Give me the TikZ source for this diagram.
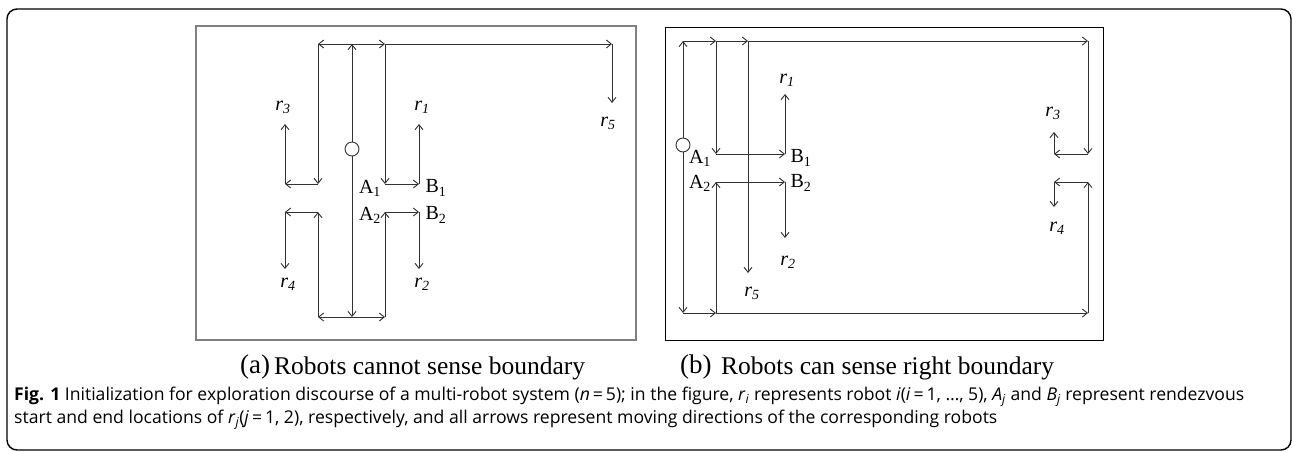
\documentclass[tikz,border=0pt]{standalone}
\usepackage{fontspec}
\setmainfont{Liberation Serif}
\setsansfont{Open Sans}
\usetikzlibrary{arrows.meta}
\definecolor{linecol}{HTML}{333333}
\definecolor{boxgray}{HTML}{808080}
\begin{document}
\begin{tikzpicture}[x=1pt,y=-1pt,
  mv/.style={draw=linecol, line width=0.9pt, -{Straight Barb[length=5pt,width=8pt]}},
  lbl/.style={font=\fontsize{20}{20}\selectfont, inner sep=0pt},
  start/.style={circle, draw=linecol, fill=white, line width=0.9pt, minimum size=14pt, inner sep=0pt},
  subcap/.style={font=\fontsize{25.5}{25.5}\selectfont, inner sep=0pt, anchor=west},
  subtag/.style={font=\fontsize{27}{27}\selectfont, inner sep=0pt, anchor=west},
  capline/.style={font=\sffamily\fontsize{17.6}{20}\selectfont, inner sep=0pt, anchor=west}]
\useasboundingbox (0,0) rectangle (1293,451);
% outer frame
\draw[black, line width=1.4pt, rounded corners=10pt] (7,9) rectangle (1291,450);
% panel boxes
\draw[boxgray, line width=1.4pt] (196,26) rectangle (636,340);
\draw[black, line width=0.9pt] (665,27) rectangle (1103,340);

% ---------- panel (a) ----------
\coordinate (aT) at (352,44);
\coordinate (aB) at (352,317);
\coordinate (aTL) at (318,44);
\coordinate (aTR) at (385,44);
\coordinate (aT5) at (612,44);
\coordinate (a5) at (612,103);
\coordinate (aBL) at (318,317);
\coordinate (aBR) at (385,317);
\coordinate (aL1) at (318,184);
\coordinate (aR1) at (385,184);
\coordinate (aLL1) at (285,184);
\coordinate (aRR1) at (419,184);
\coordinate (a3) at (285,124);
\coordinate (a1) at (419,124);
\coordinate (aL2) at (318,212);
\coordinate (aR2) at (385,212);
\coordinate (aLL2) at (285,212);
\coordinate (aRR2) at (419,212);
\coordinate (a4) at (285,269);
\coordinate (a2) at (419,269);
\node[start] (aS) at (352,149) {};

\draw[mv] (aS) -- (aT);
\draw[mv] (aS) -- (aB);
\draw[mv] (aT) -- (aTL);
\draw[mv] (aT) -- (aTR);
\draw[mv] (aTR) -- (aT5);
\draw[mv] (aT5) -- (a5);
\draw[mv] (aTL) -- (aL1);
\draw[mv] (aL1) -- (aLL1);
\draw[mv] (aLL1) -- (a3);
\draw[mv] (aTR) -- (aR1);
\draw[mv] (aR1) -- (aRR1);
\draw[mv] (aRR1) -- (a1);
\draw[mv] (aB) -- (aBL);
\draw[mv] (aB) -- (aBR);
\draw[mv] (aBL) -- (aL2);
\draw[mv] (aL2) -- (aLL2);
\draw[mv] (aLL2) -- (a4);
\draw[mv] (aBR) -- (aR2);
\draw[mv] (aR2) -- (aRR2);
\draw[mv] (aRR2) -- (a2);

\node[lbl] (ar3) at (283,107) {\textit{r}\textsubscript{\textit{3}}};
\node[lbl] (ar1) at (422,107) {\textit{r}\textsubscript{\textit{1}}};
\node[lbl] (ar5) at (608,123) {\textit{r}\textsubscript{\textit{5}}};
\node[lbl] (ar4) at (288,284) {\textit{r}\textsubscript{\textit{4}}};
\node[lbl] (ar2) at (422,284) {\textit{r}\textsubscript{\textit{2}}};
\node[lbl] (aA1) at (370,188) {A\textsubscript{1}};
\node[lbl] (aB1) at (436,188) {B\textsubscript{1}};
\node[lbl] (aA2) at (370,215) {A\textsubscript{2}};
\node[lbl] (aB2) at (436,215) {B\textsubscript{2}};

% ---------- panel (b) ----------
\coordinate (bT) at (683,41);
\coordinate (bB) at (683,313);
\coordinate (bT1) at (716,41);
\coordinate (bT5) at (748,41);
\coordinate (bTR) at (1088,41);
\coordinate (bB1) at (716,313);
\coordinate (bBR) at (1088,313);
\coordinate (bA1) at (716,154);
\coordinate (bB1p) at (785,154);
\coordinate (b1) at (785,94);
\coordinate (b5) at (748,273);
\coordinate (bA2) at (716,182);
\coordinate (bB2p) at (785,182);
\coordinate (b2) at (785,238);
\coordinate (bR1) at (1088,154);
\coordinate (bRL1) at (1054,154);
\coordinate (b3) at (1054,132);
\coordinate (bR2) at (1088,182);
\coordinate (bRL2) at (1054,182);
\coordinate (b4) at (1054,207);
\node[start] (bS) at (683,145) {};

\draw[mv] (bS) -- (bT);
\draw[mv] (bS) -- (bB);
\draw[mv] (bT) -- (bT1);
\draw[mv] (bT1) -- (bT5);
\draw[mv] (bT5) -- (bTR);
\draw[mv] (bTR) -- (bR1);
\draw[mv] (bR1) -- (bRL1);
\draw[mv] (bRL1) -- (b3);
\draw[mv] (bT1) -- (bA1);
\draw[mv] (bA1) -- (bB1p);
\draw[mv] (bB1p) -- (b1);
\draw[mv] (bT5) -- (b5);
\draw[mv] (bB) -- (bB1);
\draw[mv] (bB1) -- (bBR);
\draw[mv] (bBR) -- (bR2);
\draw[mv] (bR2) -- (bRL2);
\draw[mv] (bRL2) -- (b4);
\draw[mv] (bB1) -- (bA2);
\draw[mv] (bA2) -- (bB2p);
\draw[mv] (bB2p) -- (b2);

\node[lbl] (br1) at (787,80) {\textit{r}\textsubscript{\textit{1}}};
\node[lbl] (br3) at (1053,113) {\textit{r}\textsubscript{\textit{3}}};
\node[lbl] (br2) at (788,262) {\textit{r}\textsubscript{\textit{2}}};
\node[lbl] (br5) at (752,293) {\textit{r}\textsubscript{\textit{5}}};
\node[lbl] (br4) at (1057,228) {\textit{r}\textsubscript{\textit{4}}};
\node[lbl] (bA1l) at (700,158) {A\textsubscript{1}};
\node[lbl] (bB1l) at (801,158) {B\textsubscript{1}};
\node[lbl] (bA2l) at (700,183) {A\textsubscript{2}};
\node[lbl] (bB2l) at (801,183) {B\textsubscript{2}};

% ---------- sub-captions ----------
\node[subtag] (tagA) at (240,367) {(a)};
\node[subcap] (capA) at (274,368) {Robots cannot sense boundary};
\node[subtag] (tagB) at (680,367) {(b)};
\node[subcap] (capB) at (721,368) {Robots can sense right boundary};

% ---------- figure caption ----------
\node[capline] (cap1) at (14,397) {\textbf{Fig. 1} Initialization for exploration discourse of a multi-robot system (\textit{n}\,=\,5); in the figure, \textit{r}\textsubscript{\textit{i}} represents robot \textit{i}(\textit{i}\,=\,1, …, 5), \textit{A}\textsubscript{\textit{j}} and \textit{B}\textsubscript{\textit{j}} represent rendezvous};
\node[capline] (cap2) at (14,420) {start and end locations of \textit{r}\textsubscript{\textit{j}}(\textit{j}\,=\,1, 2), respectively, and all arrows represent moving directions of the corresponding robots};
\end{tikzpicture}
\end{document}
